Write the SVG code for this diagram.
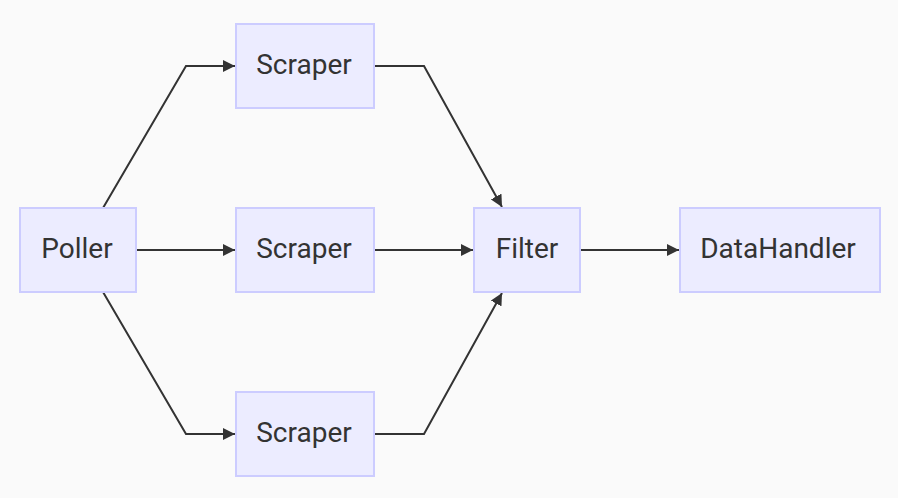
<svg xmlns="http://www.w3.org/2000/svg" width="898" height="498" viewBox="0 0 898 498">
<style>
.node rect{fill:#ECECFF;stroke:#CCCCFF;stroke-width:2}
.node text{font-family:Roboto,"Liberation Sans",sans-serif;font-size:28px;fill:#333333;text-anchor:middle;dominant-baseline:central}
.edge{fill:none;stroke:#333333;stroke-width:2}
</style>
<defs>
<marker id="arrow" viewBox="0 0 10 10" refX="10" refY="5" markerWidth="12" markerHeight="12" markerUnits="userSpaceOnUse" orient="auto">
<path d="M0,0 L10,5 L0,10 z" fill="#333333"/>
</marker>
</defs>
<rect width="898" height="498" fill="#FAFAFA"/>
<g id="connectors">
<path class="edge" d="M103,208 L186,66 L235,66" marker-end="url(#arrow)"/>
<path class="edge" d="M136,250 L235,250" marker-end="url(#arrow)"/>
<path class="edge" d="M103,292 L186,434 L235,434" marker-end="url(#arrow)"/>
<path class="edge" d="M374,66 L424,66 L502,207" marker-end="url(#arrow)"/>
<path class="edge" d="M374,250 L473,250" marker-end="url(#arrow)"/>
<path class="edge" d="M374,434 L424,434 L502,293" marker-end="url(#arrow)"/>
<path class="edge" d="M580,250 L679,250" marker-end="url(#arrow)"/>
</g>
<g id="poller" class="node"><rect x="20" y="208" width="116" height="84"/><text x="77" y="248">Poller</text></g>
<g id="scraper1" class="node"><rect x="236" y="24" width="138" height="84"/><text x="304" y="64">Scraper</text></g>
<g id="scraper2" class="node"><rect x="236" y="208" width="138" height="84"/><text x="304" y="248">Scraper</text></g>
<g id="scraper3" class="node"><rect x="236" y="392" width="138" height="84"/><text x="304" y="432">Scraper</text></g>
<g id="filter" class="node"><rect x="474" y="208" width="106" height="84"/><text x="527" y="248">Filter</text></g>
<g id="datahandler" class="node"><rect x="680" y="208" width="200" height="84"/><text x="778" y="248">DataHandler</text></g>
</svg>
